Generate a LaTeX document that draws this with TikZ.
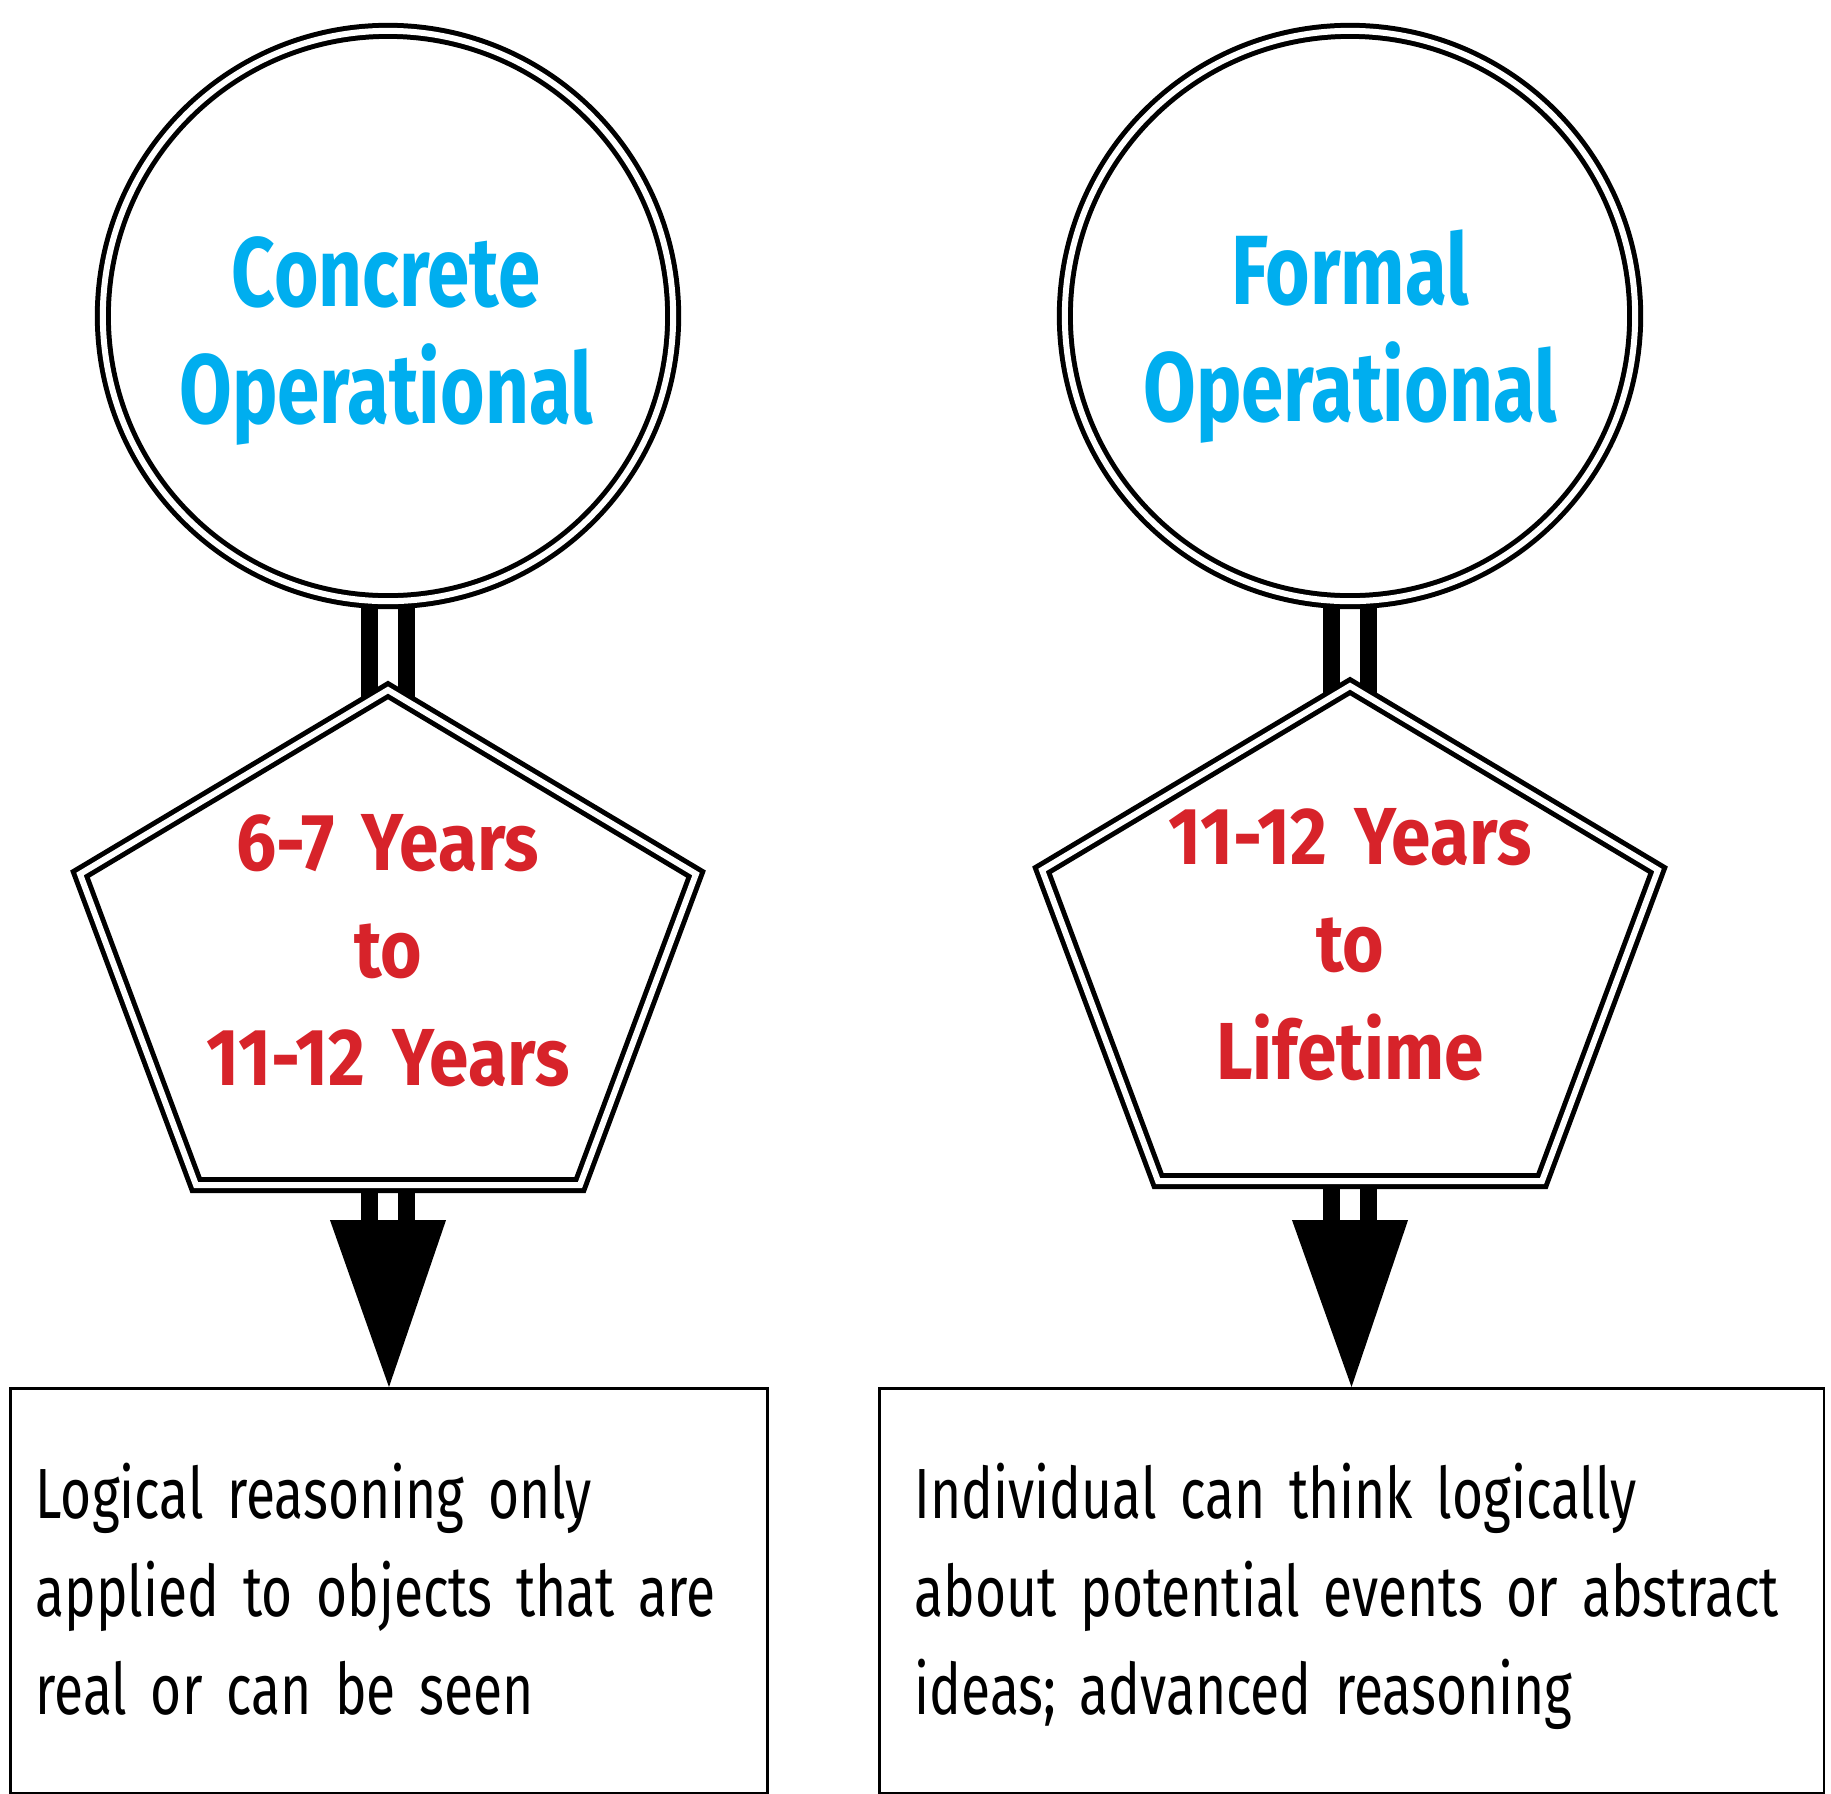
\documentclass[tikz,border=0pt]{standalone}
\usepackage{fontspec}
\setmainfont{Fira Sans}[FakeStretch=0.75, WordSpace=0.45]
\newfontfamily\headfont{Fira Sans}[FakeStretch=0.775, WordSpace=0.55]
\newfontfamily\agefont{Fira Sans}[FakeStretch=0.88, WordSpace=0.5]
\usepackage{tikz}
\usetikzlibrary{positioning, backgrounds}
\definecolor{stageblue}{HTML}{00AEEF}
\definecolor{agered}{HTML}{D7232A}

\begin{document}
\begin{tikzpicture}[x=0.01cm, y=-0.01cm]
	\tikzstyle{circle_style}=[circle, draw, fill=white, double, line width=0.05cm, double distance=0.06cm, minimum size=5.7cm, inner sep=0]
	\tikzstyle{pentagon_style}=[draw, fill=white, double, line width=0.05cm, double distance=0.06cm, line join=miter]
	\tikzstyle{stub_style}=[draw, double, line width=0.17cm, double distance=0.2cm]
	\tikzstyle{box_style}=[rectangle, draw, line width=0.025cm, minimum height=4.05cm, anchor=north west, inner sep=0]
	\tikzstyle{stage_text}=[text=stageblue, font=\headfont\bfseries\fontsize{28}{33.3}\selectfont, text width=5cm, align=center, inner sep=0, anchor=base]
	\tikzstyle{age_text}=[text=agered, font=\agefont\bfseries\fontsize{23}{30.7}\selectfont, text width=5cm, align=center, inner sep=0, anchor=base]
	\tikzstyle{desc_text}=[font=\fontsize{20.2}{27.9}\selectfont, align=left, inner sep=0, anchor=base west]

	\useasboundingbox (0,0) rectangle (1831,1793);

	% stages
	\node at (388, 316) [circle_style] (stage_L) {};
	\node at (1350, 316) [circle_style] (stage_R) {};
	\node at (386, 306) [stage_text] (stage_L_txt) {Concrete\\Operational};
	\node at (1350, 304) [stage_text] (stage_R_txt) {Formal\\Operational};

	% ages
	\foreach \cx/\dy in {388/0, 1350/-4}
		\draw[pentagon_style, shift={(\cx,\dy)}] (0,690) -- (-308,874) -- (-192,1185) -- (192,1185) -- (308,874) -- cycle;
	\node at (388, 870) [age_text] (age_L) {6-7 Years\\to\\11-12 Years};
	\node at (1350, 864) [age_text] (age_R) {11-12 Years\\to\\Lifetime};

	% descriptions
	\node at (9, 1387) [box_style, minimum width=7.57cm] (box_L) {};
	\node at (878, 1387) [box_style, minimum width=9.44cm] (box_R) {};
	\node at (35, 1518) [desc_text, text width=7.3cm] (desc_L) {Logical reasoning only\\applied to objects that are\\real or can be seen};
	\node at (914, 1518) [desc_text, text width=9.0cm] (desc_R) {Individual can think logically\\about potential events or abstract\\ideas; advanced reasoning};

	% arrows
	\coordinate (arrow_L) at (388, 1220);
	\coordinate (arrow_R) at (1350, 1220);
	\foreach \s in {L,R}
		\fill ([xshift=-0.58cm]arrow_\s) -- ([xshift=0.58cm]arrow_\s) -- (box_\s.north) -- cycle;

	% connect: stage -> age -> arrow
	\begin{scope}[on background layer]
		\foreach \s in {L,R} {
			\path[stub_style] (stage_\s) -- (age_\s);
			\path[stub_style] (age_\s) -- (arrow_\s);
		}
	\end{scope}
\end{tikzpicture}
\end{document}
